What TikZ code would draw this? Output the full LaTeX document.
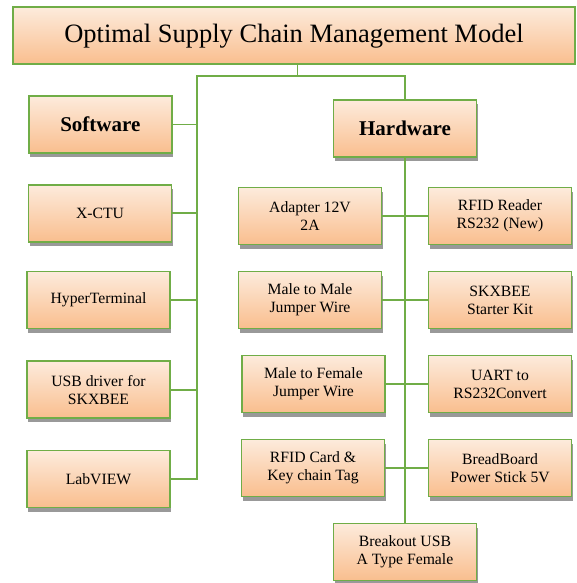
\documentclass[tikz,border=0pt]{standalone}
\usepackage{fontspec}
\setmainfont{LiberationSerif}[Extension=.ttf, UprightFont=*-Regular, BoldFont=*-Bold, ItalicFont=*-Italic, BoldItalicFont=*-BoldItalic]
\usetikzlibrary{shadows}
\definecolor{bordergreen}{RGB}{112,173,71}
\definecolor{filltop}{RGB}{253,235,220}
\definecolor{fillbot}{RGB}{249,190,142}
\tikzset{
  boxbase/.style={draw=bordergreen, line width=1.8pt, top color=filltop, bottom color=fillbot,
    minimum width=143pt, minimum height=57pt, inner sep=2pt, align=center},
  box/.style={boxbase, font=\rmfamily\fontsize{15.7}{18}\selectfont,
    drop shadow={shadow xshift=1pt, shadow yshift=-4pt, fill=black!40, opacity=1}},
  headbox/.style={box, font=\rmfamily\fontsize{21}{24}\selectfont\bfseries},
  titlebox/.style={boxbase, minimum width=562pt, minimum height=57pt, font=\rmfamily\fontsize{26.5}{30}\selectfont},
  conn/.style={draw=bordergreen, line width=1.8pt}
}
\begin{document}
\begin{tikzpicture}[x=1pt,y=-1pt]
\useasboundingbox (0,0) rectangle (576,583);
\node[titlebox] (title) at (294,35.7) {Optimal Supply Chain Management Model};
\node[headbox] (sw) at (100.3,124.5) {Software};
\node[headbox] (hw) at (405,128.5) {Hardware};
\node[box] (xctu) at (100,213.3) {X-CTU};
\node[box] (hyper) at (98.5,300) {HyperTerminal};
\node[box] (usb) at (98.5,389.7) {USB driver for\\SKXBEE};
\node[box] (lab) at (98.5,479) {LabVIEW};
\node[box] (adapter) at (310,216) {Adapter 12V\\2A};
\node[box] (reader) at (500,216) {RFID Reader\\RS232 (New)};
\node[box] (mm) at (310,300) {Male to Male\\Jumper Wire};
\node[box] (skx) at (500,300) {SKXBEE\\Starter Kit};
\node[box] (mf) at (313.5,384) {Male to Female\\Jumper Wire};
\node[box] (uart) at (500,384) {UART to\\RS232Convert};
\node[box] (card) at (313,468) {RFID Card \&\\Key chain Tag};
\node[box] (bread) at (500,468) {BreadBoard\\Power Stick 5V};
\node[box] (bo) at (405,552) {Breakout USB\\A Type Female};
\coordinate (jl) at (197,76);
\coordinate (jt) at ([xshift=3.5pt]title.south);
\draw[conn] (jt) -- (jt |- jl);
\draw[conn] (lab.east) -| (jl) -- (hw.north |- jl) -- (hw.north);
\draw[conn] (sw.east) -- (sw.east -| jl);
\draw[conn] (xctu.east) -- (xctu.east -| jl);
\draw[conn] (hyper.east) -- (hyper.east -| jl);
\draw[conn] (usb.east) -- (usb.east -| jl);
\draw[conn] (hw.south) -- (bo.north);
\draw[conn] (adapter.east) -- (reader.west);
\draw[conn] (mm.east) -- (skx.west);
\draw[conn] (mf.east) -- (uart.west);
\draw[conn] (card.east) -- (bread.west);
\end{tikzpicture}
\end{document}
